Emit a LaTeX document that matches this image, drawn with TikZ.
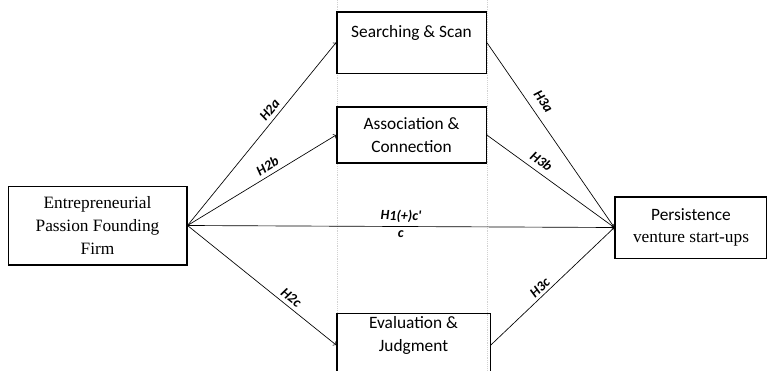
\documentclass[tikz,border=0pt]{standalone}
\usepackage{fontspec}
\setmainfont{Liberation Serif}
\newfontfamily\calibri{Carlito}
\usetikzlibrary{positioning}

\begin{document}
\begin{tikzpicture}[x=0.75pt, y=-0.75pt, auto,
    main/.style = {draw, line width=1pt, align=center, inner sep=2pt,
                   font=\fontsize{13}{17}\selectfont},
    mid/.style = {main, minimum width=112pt, font=\calibri\fontsize{13}{17}\selectfont},
    hyp/.style = {font=\calibri\bfseries\itshape\fontsize{10.5}{12}\selectfont, sloped, inner sep=3pt},
    guide/.style = {gray!35, densely dotted, line width=0.4pt}]
      \useasboundingbox (0,0) rectangle (767,371);

      \draw[guide] (337,0) -- (337,371);
      \draw[guide] (487,0) -- (487,371);

      \node[main, minimum width=134pt, minimum height=59pt] (1) at (97.5,225.5)
           {Entrepreneurial\\Passion Founding\\Firm};
      \node[mid, minimum height=46pt] (2) at (411.5,42.5) {Searching \& Scan\\ \mbox{}};
      \node[mid, minimum height=42pt] (3) at (411.5,135) {Association \&\\Connection};
      \node[mid, minimum width=115pt, minimum height=46pt, anchor=north] (4) at (413.5,313)
           {Evaluation \&\\Judgment\\ \mbox{}};
      \node[main, minimum width=114pt, minimum height=46pt] (5) at (691,227.5)
           {{\calibri Persistence}\\venture start-ups};

      \path[->, line width=0.5pt]
      (1.east)  edge  node[hyp, pos=0.6]  {H2a}  (2.west)
      (1.east)  edge  node[hyp, pos=0.57] {H2b}  (3.west)
      (1.east)  edge  node[hyp, pos=0.5]  {H1(+)c'}
                      node[hyp, pos=0.5, swap] {c}  (5.west)
      (1.east)  edge  node[hyp, pos=0.66] {H2c}  (4.west)
      (2.east)  edge  node[hyp, pos=0.36, inner sep=6pt] {H3a}  (5.west)
      (3.east)  edge  node[hyp, pos=0.38, inner sep=4pt] {H3b}  (5.west)
      (4.east)  edge  node[hyp, pos=0.44, inner sep=2pt] {H3c}  (5.west);

    \end{tikzpicture}
\end{document}
